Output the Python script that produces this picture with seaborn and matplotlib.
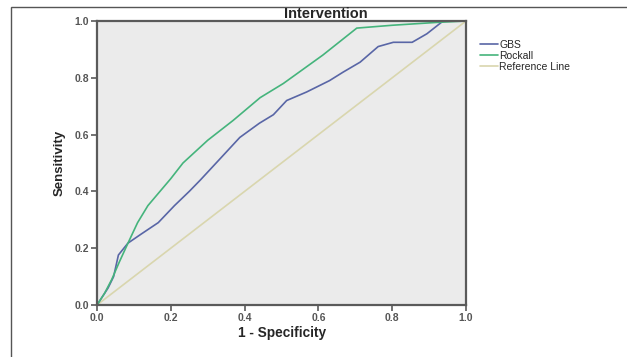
import matplotlib
matplotlib.use("Agg")
import matplotlib.pyplot as plt
import seaborn as sns
import pandas as pd
from matplotlib.patches import Rectangle
from matplotlib.lines import Line2D

# ---- data ----
gbs_fpr = [0, 0.015, 0.03, 0.045, 0.058, 0.084, 0.12, 0.166, 0.21, 0.25, 0.28, 0.33,
           0.387, 0.44, 0.478, 0.514, 0.568, 0.63, 0.667, 0.713, 0.762, 0.803, 0.854,
           0.894, 0.938, 1.0]
gbs_tpr = [0, 0.03, 0.06, 0.10, 0.176, 0.218, 0.25, 0.29, 0.35, 0.40, 0.44, 0.51,
           0.59, 0.64, 0.67, 0.72, 0.75, 0.79, 0.82, 0.855, 0.91, 0.925, 0.925,
           0.955, 1.0, 1.0]
rock_fpr = [0, 0.02, 0.04, 0.06, 0.084, 0.11, 0.138, 0.2, 0.233, 0.3, 0.369, 0.442,
            0.505, 0.612, 0.704, 0.8, 0.92, 1.0]
rock_tpr = [0, 0.04, 0.09, 0.15, 0.218, 0.29, 0.35, 0.445, 0.5, 0.58, 0.65, 0.73,
            0.78, 0.88, 0.975, 0.985, 0.995, 1.0]
ref_fpr = [0, 1]
ref_tpr = [0, 1]
series_names = ["GBS", "Rockall", "Reference Line"]
ticks = [0.0, 0.2, 0.4, 0.6, 0.8, 1.0]
tick_labels = ["0.0", "0.2", "0.4", "0.6", "0.8", "1.0"]

colors = {"GBS": "#5966a6", "Rockall": "#45b47c", "Reference Line": "#d9d6ae"}

df = pd.concat([
    pd.DataFrame({"fpr": gbs_fpr, "tpr": gbs_tpr, "curve": "GBS"}),
    pd.DataFrame({"fpr": rock_fpr, "tpr": rock_tpr, "curve": "Rockall"}),
    pd.DataFrame({"fpr": ref_fpr, "tpr": ref_tpr, "curve": "Reference Line"}),
], ignore_index=True)

sns.set_style("white")
plt.rcParams["font.family"] = ["Liberation Sans", "DejaVu Sans"]

W, H = 627, 357
fig = plt.figure(figsize=(W / 100, H / 100), dpi=100)
ax = fig.add_axes([97 / W, 1 - 305 / H, (466 - 97) / W, (305 - 21) / H])
ax.set_facecolor("#ebebeb")

for name in ["Reference Line", "GBS", "Rockall"]:
    sub = df[df["curve"] == name]
    sns.lineplot(data=sub, x="fpr", y="tpr", sort=False, color=colors[name],
                 lw=1.2, ax=ax, legend=False, estimator=None)

ax.set_xlim(0, 1)
ax.set_ylim(0, 1)
ax.set_xticks(ticks)
ax.set_xticklabels(tick_labels)
ax.set_yticks(ticks)
ax.set_yticklabels(tick_labels)
ax.set_xlabel("")
ax.set_ylabel("")
for s in ax.spines.values():
    s.set_color("#5a5a5a")
    s.set_linewidth(1.6)
ax.tick_params(axis="both", direction="out", length=4, width=1.2, color="#5a5a5a",
               labelsize=7.5, labelcolor="#555555", pad=1.5, bottom=True, left=True)
for t in ax.get_xticklabels() + ax.get_yticklabels():
    t.set_fontweight("bold")

fig.text(282 / W, 1 - 333 / H, "1 - Specificity", ha="center", va="center",
         fontsize=9.8, fontweight="bold")
fig.text(60 / W, 1 - 163 / H, "Sensitivity", ha="center", va="center",
         rotation=90, fontsize=9.5, fontweight="bold")
fig.text(326 / W, 1 - 13.5 / H, "Intervention", ha="center", va="center",
         fontsize=10.5, fontweight="bold")

handles = [Line2D([0], [0], color=colors[n], lw=1.2) for n in series_names]
fig.legend(handles, series_names, loc="upper left",
           bbox_to_anchor=(480 / W, 1 - 40 / H), frameon=False, fontsize=7.5,
           handlelength=1.7, handletextpad=0.15, labelspacing=0.1,
           borderpad=0, borderaxespad=0)

fig.patches.append(Rectangle((11 / W, -0.1), 1.2, (1 - 7 / H) + 0.1,
                             transform=fig.transFigure, fill=False,
                             edgecolor="#555555", lw=1.0))

fig.savefig("out.png", dpi=100)
